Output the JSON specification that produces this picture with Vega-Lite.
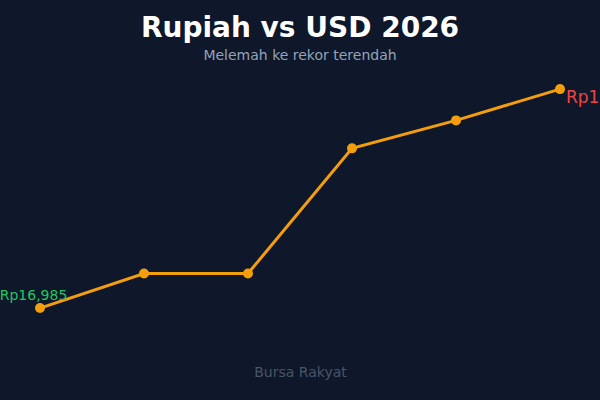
{
  "$schema": "https://vega.github.io/schema/vega-lite/v6.json",
  "width": 600,
  "height": 270,
  "autosize": {"type": "none"},
  "padding": {"top": 70, "left": 0, "right": 0, "bottom": 60},
  "background": "#0f172a",
  "config": {
    "view": {"stroke": null},
    "font": "DejaVu Sans"
  },
  "title": {
    "text": "Rupiah vs USD 2026",
    "subtitle": "Melemah ke rekor terendah",
    "anchor": "middle",
    "font": "DejaVu Sans",
    "fontSize": 28,
    "fontWeight": "bold",
    "color": "#ffffff",
    "subtitleFont": "DejaVu Sans",
    "subtitleFontSize": 14,
    "subtitleColor": "#94a3b8",
    "subtitlePadding": 6,
    "offset": 7
  },
  "data": {
    "values": [
      {"bulan": "Jan", "kurs": 16985},
      {"bulan": "Feb", "kurs": 17090},
      {"bulan": "Mar", "kurs": 17090},
      {"bulan": "Apr", "kurs": 17470},
      {"bulan": "Mei", "kurs": 17555},
      {"bulan": "Jun", "kurs": 17650}
    ]
  },
  "encoding": {
    "x": {
      "field": "bulan",
      "type": "ordinal",
      "sort": null,
      "scale": {"type": "point", "padding": 0.3846},
      "axis": {
        "title": "Bursa Rakyat",
        "titleColor": "#475569",
        "titleFontSize": 14,
        "titleFontWeight": "normal",
        "titlePadding": 25,
        "labels": false,
        "ticks": false,
        "domain": false,
        "grid": false
      }
    },
    "y": {
      "field": "kurs",
      "type": "quantitative",
      "scale": {"domain": [16888, 17708], "zero": false, "nice": false},
      "axis": null
    }
  },
  "layer": [
    {
      "mark": {"type": "line", "color": "#f59e0b", "strokeWidth": 3},
      "encoding": {}
    },
    {
      "mark": {"type": "point", "filled": true, "color": "#f59e0b", "size": 100, "opacity": 1},
      "encoding": {}
    },
    {
      "transform": [{"filter": "datum.bulan == 'Jan'"}],
      "mark": {"type": "text", "color": "#22c55e", "fontSize": 14, "align": "center", "baseline": "middle", "dx": -6.5, "dy": -12, "text": {"expr": "'Rp' + format(datum.kurs, ',d')"}},
      "encoding": {}
    },
    {
      "transform": [{"filter": "datum.bulan == 'Jun'"}],
      "mark": {"type": "text", "color": "#ef4444", "fontSize": 17, "align": "left", "baseline": "middle", "dx": 6, "dy": 9, "text": {"expr": "'Rp' + format(datum.kurs, ',d')"}},
      "encoding": {}
    }
  ]
}
